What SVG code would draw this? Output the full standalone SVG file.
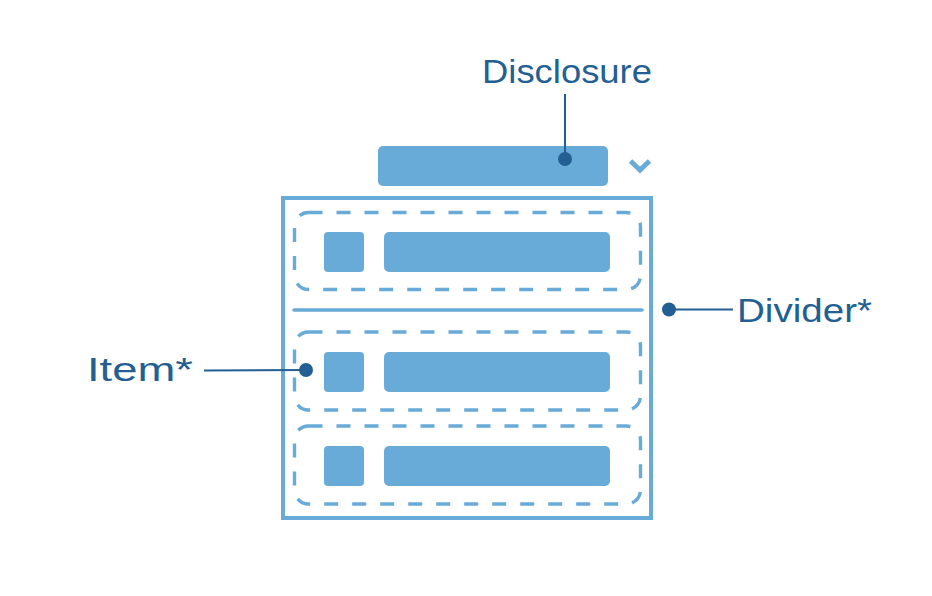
<svg xmlns="http://www.w3.org/2000/svg" width="932" height="596" viewBox="0 0 932 596">
<style>
.fill{fill:#69abd8}
.frame{fill:none;stroke:#69abd8;stroke-width:4}
.item{fill:none;stroke:#69abd8;stroke-width:3.4;stroke-dasharray:14 14}
.div{stroke:#69abd8;stroke-width:3.5;stroke-linecap:round}
.lead{stroke:#235f93;stroke-width:2;fill:none}
.dot{fill:#235f93}
.lbl{font-family:"Liberation Sans",Arial,sans-serif;font-size:34px;fill:#235f93}
</style>
<rect width="932" height="596" fill="#ffffff"/>
<g id="disclosure">
<rect class="fill" x="378" y="146" width="230" height="40" rx="5"/>
<polyline points="630.5,161 640,170 649.5,161" fill="none" stroke="#69abd8" stroke-width="5"/>
</g>
<g id="list">
<rect class="frame" x="283" y="198" width="368" height="320"/>
</g>
<g id="item1">
<rect class="item" x="294.5" y="212.5" width="346" height="77" rx="14"/>
<rect class="fill" x="324" y="232" width="40" height="40" rx="4"/>
<rect class="fill" x="384" y="232" width="226" height="40" rx="5"/>
</g>
<g id="divider">
<line class="div" x1="294" y1="310" x2="642" y2="310"/>
</g>
<g id="item2">
<rect class="item" x="294.5" y="332" width="346" height="78" rx="14"/>
<rect class="fill" x="324" y="352" width="40" height="40" rx="4"/>
<rect class="fill" x="384" y="352" width="226" height="40" rx="5"/>
</g>
<g id="item3">
<rect class="item" x="294.5" y="426" width="346" height="78" rx="14"/>
<rect class="fill" x="324" y="446" width="40" height="40" rx="4"/>
<rect class="fill" x="384" y="446" width="226" height="40" rx="5"/>
</g>
<g id="connectors">
<line class="lead" x1="565" y1="94" x2="565" y2="159"/>
<circle class="dot" cx="565" cy="159" r="7"/>
<line class="lead" x1="204" y1="370.5" x2="306" y2="370"/>
<circle class="dot" cx="306" cy="370" r="7"/>
<line class="lead" x1="669" y1="309.5" x2="733" y2="309.5"/>
<circle class="dot" cx="669" cy="309.5" r="7"/>
</g>
<g id="labels">
<text class="lbl" x="482" y="83" textLength="170" lengthAdjust="spacingAndGlyphs">Disclosure</text>
<text class="lbl" x="87" y="381" textLength="106" lengthAdjust="spacingAndGlyphs">Item*</text>
<text class="lbl" x="737" y="322" textLength="135" lengthAdjust="spacingAndGlyphs">Divider*</text>
</g>
</svg>
